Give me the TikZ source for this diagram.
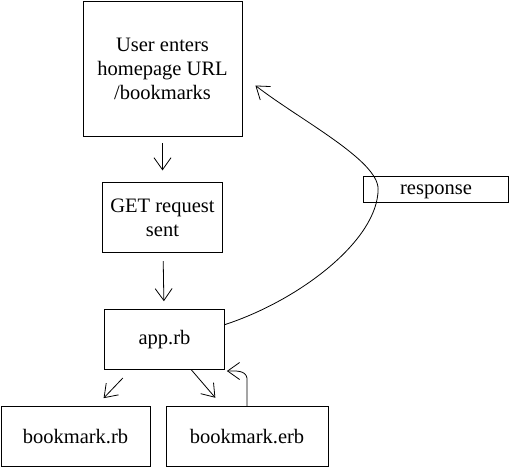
\documentclass[tikz,border=0pt]{standalone}
\usepackage{fontspec}
\setmainfont{Liberation Serif}
\usetikzlibrary{positioning, arrows.meta, calc}
\tikzset{
block/.style={draw, rectangle, line width=0.8pt, align=center, inner sep=0pt, font=\fontsize{20.5}{24}\selectfont}, % every box of the flow
flow/.style={-{Straight Barb[length=12pt, width=17pt, line width=0.8pt]}, line width=0.8pt}, % open arrow heads
}
\begin{document}
\begin{tikzpicture}[x=1pt, y=-1pt]
      \useasboundingbox (0,0) rectangle (510,467);
      \node[block, minimum width=159pt, minimum height=135pt] (home) at (162.5,68.5) {User enters\\homepage URL\\/bookmarks};
      \node[block, minimum width=120pt, minimum height=70pt, below=46pt of home] (get) {GET request\\sent};
      \node[block, minimum width=120pt, minimum height=60pt, below=56pt of get, xshift=2pt] (app) {app.rb};
      \node[block, minimum width=149pt, minimum height=60pt] (rbfile) at (75.5,436.5) {bookmark.rb};
      \node[block, minimum width=162pt, minimum height=60pt] (erbfile) at (247,436.5) {bookmark.erb};
      \node[block, minimum width=145pt, minimum height=26pt, text height=14pt, text depth=2.8pt] (response) at (436,189) {response};
      \draw[flow, shorten <=7pt, shorten >=12pt] (home) -- (get);
      \draw[flow, shorten <=8pt, shorten >=8pt] (get) -- (app);
      \draw[flow, shorten <=11pt, shorten >=11pt] ([xshift=-34pt]app.south) -- ([xshift=20.5pt]rbfile.north);
      \draw[flow, shorten >=11pt] ([xshift=27pt]app.south) -- ([xshift=-24.5pt]erbfile.north);
      \draw[flow] (erbfile.north) -- ++(0,-28) to[out=100, in=0] ([xshift=2pt, yshift=-1pt]app.south east);
      \draw[flow] ([yshift=15pt]app.east) .. controls (300,300) and (378,240) .. ([xshift=15pt]response.west)
      .. controls (378,160) and (300,120) .. ([xshift=13pt, yshift=-17pt]home.east);
    \end{tikzpicture}
\end{document}
